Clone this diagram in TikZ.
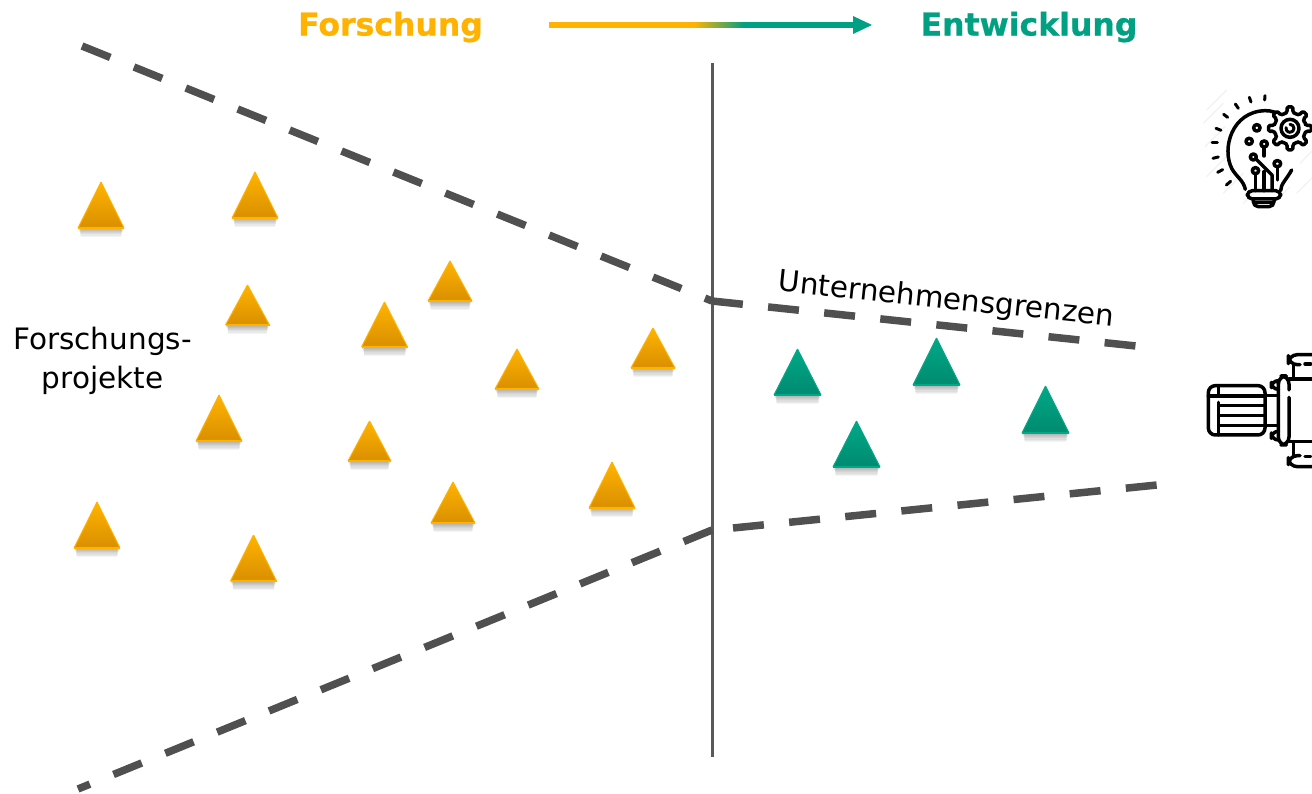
\documentclass[tikz,border=0pt]{standalone}
\usepackage{fontspec}
\setmainfont{DejaVu Sans}
\newfontfamily\headfont{DejaVu Sans}[BoldFeatures={FakeBold=0.7}]
\definecolor{orgc}{HTML}{FFB300}
\definecolor{orgd}{HTML}{D98F00}
\definecolor{grnc}{HTML}{00A082}
\definecolor{grnd}{HTML}{008A70}
\definecolor{grnt}{HTML}{00A987}
\definecolor{dashc}{HTML}{505050}
\tikzset{
  bound/.style={draw=dashc,line width=7.5pt,dash pattern=on 30.5pt off 25.5pt},
  boundr/.style={draw=dashc,line width=7.5pt,dash pattern=on 31pt off 25.4pt},
  icon/.style={draw=black,line width=3.5pt,line cap=round,line join=round,fill=none},
  iconthin/.style={draw=black,line width=3pt,line cap=round,line join=round,fill=none},
  lab/.style={inner sep=0pt,font=\fontsize{29.5}{29.5}\selectfont},
  head/.style={inner sep=0pt,font=\headfont\fontsize{31.5}{31.5}\selectfont\bfseries},
}
% #1 apex x, #2 apex y, #3 half width, #4 base y, #5 top colour, #6 bottom colour, #7 edge
\newcommand{\tria}[7]{%
  \foreach \k in {1,...,7}{%
    \fill[black,opacity=.045] ({#1-#3+\k*0.4},{#4-2}) rectangle ({#1+#3-\k*0.4},{#4+1+\k*1.1});}%
  \shade[top color=#5,bottom color=#6] (#1,#2) -- ({#1+#3},#4) -- ({#1-#3},#4) -- cycle;
  \draw[#7,line width=1pt,line join=round] (#1,#2) -- ({#1+#3},#4);
  \draw[#7,line width=1pt,line join=round] (#1,#2) -- ({#1-#3},#4);
  \draw[#7,line width=2.2pt] ({#1-#3},#4) -- ({#1+#3},#4);
}
\begin{document}
\begin{tikzpicture}[x=1pt,y=-1pt]
\useasboundingbox (0,0) rectangle (1312,794);
\clip (0,0) rectangle (1312,794);
\fill[white] (0,0) rectangle (1312,794);

% heading
\node[head,text=orgc] (forschung) at (390.5,27) {Forschung};
\node[head,text=grnc] (entwicklung) at (1029,27) {Entwicklung};
\fill[orgc] (549,22.5) rectangle (694,28.5);
\foreach \i in {0,...,49}{
  \pgfmathsetmacro{\p}{100-2*\i}
  \fill[orgc!\p!grnc] ({693.5+\i},22.5) rectangle ({694.8+\i},28.5);
}
\fill[grnc] (743,22.5) rectangle (856,28.5);
\fill[grnc] (853,16) -- (872,25) -- (853,34) -- cycle;

% axis and boundaries
\coordinate (vt) at (712,63);
\coordinate (vb) at (712,757);
\draw[draw=dashc!95,line width=3pt] (vt) -- (vb);
\coordinate (u1) at (82,46);
\coordinate (u2) at (712,301);
\coordinate (u3) at (1136,346);
\coordinate (l1) at (78,789);
\coordinate (l2) at (712,530);
\coordinate (l2b) at (733,528);
\coordinate (l3) at (1157,485);
\draw[bound] (u1) -- (u2);
\draw[boundr] (u2) -- (u3);
\draw[bound] (l2) -- (l1);
\draw[boundr] (l2b) -- (l3);

% labels
\node[lab] (fp1) at (102.5,341) {Forschungs-};
\node[lab] (fp2) at (102.5,380) {projekte};
\node[lab,rotate=-6] (ug) at (946.5,300.5) {Unternehmensgrenzen};

% orange triangles
\tria{101}{182}{23}{228}{orgc}{orgd}{orgc}
\tria{255}{172}{23}{218}{orgc}{orgd}{orgc}
\tria{247.5}{285}{22}{325}{orgc}{orgd}{orgc}
\tria{450}{261}{22}{301}{orgc}{orgd}{orgc}
\tria{384.5}{302}{23}{347}{orgc}{orgd}{orgc}
\tria{517}{349}{22}{389}{orgc}{orgd}{orgc}
\tria{653}{328}{22}{368}{orgc}{orgd}{orgc}
\tria{219}{395}{23}{441}{orgc}{orgd}{orgc}
\tria{369.5}{421}{21.5}{461}{orgc}{orgd}{orgc}
\tria{453}{482}{22}{523}{orgc}{orgd}{orgc}
\tria{612}{462}{23}{508}{orgc}{orgd}{orgc}
\tria{97}{502}{23}{548}{orgc}{orgd}{orgc}
\tria{253.5}{535}{23}{581}{orgc}{orgd}{orgc}
% green triangles
\tria{797.5}{349}{23.5}{395}{grnt}{grnd}{grnt}
\tria{936.5}{338}{23.5}{385}{grnt}{grnd}{grnt}
\tria{856.5}{421}{23.5}{467}{grnt}{grnd}{grnt}
\tria{1045.5}{386}{23.5}{433}{grnt}{grnd}{grnt}

% light bulb icon
\begin{scope}[shift={(1190,80)},x=0.3333pt,y=-0.3333pt]
  \foreach \a/\b in {50/90,40/130,45/200,50/290,100/340,160/370,240/380,320/340,330/250}{
    \draw[black!5,line width=1.2pt] (\a,\b) -- ++(60,-60);}
  \draw[iconthin] (225,47) -- (224,60);
  \draw[iconthin] (178,52) -- (183,66);
  \draw[iconthin] (136,72) -- (145,85);
  \draw[iconthin] (101,103) -- (113,112);
  \draw[iconthin] (78,145) -- (93,151);
  \draw[iconthin] (66,187) -- (82,187);
  \draw[iconthin] (69,235) -- (85,231);
  \draw[iconthin] (83,277) -- (98,269);
  \draw[iconthin] (109,315) -- (122,304);
  % bulb outline
  \draw[icon] (166,328) .. controls (160,300) and (138,290) .. (125,265)
     .. controls (95,205) and (125,95) .. (225,92) .. controls (235,92) and (245,93) .. (255,97);
  \draw[icon] (272,332) .. controls (272,312) and (290,298) .. (305,270);
  % base
  \draw[icon,rounded corners=5pt] (172,332) rectangle (272,357);
  \draw[icon,rounded corners=5pt] (190,357) -- (190,380) -- (252,380) -- (252,357);
  \draw[iconthin] (195,368) -- (248,368);
  % chips and pins
  \draw[icon,rounded corners=3pt] (191,134) rectangle (210,153);
  \draw[icon,rounded corners=3pt] (168,175) rectangle (187,193);
  \draw[icon,rounded corners=3pt] (213,183) rectangle (232,201);
  \draw[icon] (222,201) -- (222,228);
  \draw[icon] (190,231) circle[radius=9];
  \draw[icon] (198,237) -- (246,285) -- (246,332);
  \draw[icon,rounded corners=3pt] (252,242) rectangle (272,260);
  \draw[icon] (262,260) -- (262,300);
  \draw[icon,rounded corners=3pt] (187,263) rectangle (206,281);
  \draw[icon] (197,281) -- (197,332);
  \draw[icon] (222,275) -- (222,332);
  % gear
  \begin{scope}[shift={(300,145)}]
    \fill[white] (0,0) circle[radius=62];
    \draw[icon,rounded corners=1.5pt] (-17.5:47)
      \foreach \t in {0,45,...,315}{
        -- ({\t-10}:49) -- ({\t-8}:65) -- ({\t+8}:65) -- ({\t+10}:49) -- ({\t+22.5-5}:47) -- ({\t+22.5+5}:47)
      } -- cycle;
    \draw[icon] (0,0) circle[radius=27];
    \draw[iconthin] (0,-12) arc[start angle=-90,end angle=190,radius=12];
  \end{scope}
\end{scope}

% pump icon
\begin{scope}[shift={(1190,340)},x=0.3333pt,y=-0.3333pt]
  \draw[icon,rounded corners=7pt] (55,137) rectangle (225,285);
  \draw[icon] (86,137) -- (86,168);
  \draw[icon] (86,187) -- (86,285);
  \draw[icon] (55,168) -- (225,168);
  \draw[icon] (86,197) -- (225,197);
  \draw[icon] (86,226) -- (225,226);
  \draw[icon] (86,256) -- (225,256);
  \draw[icon] (225,166) -- (265,166);
  \draw[icon] (225,256) -- (265,256);
  \draw[icon,rounded corners=8pt] (265,125) -- (265,108) -- (297,108) -- (297,150);
  \draw[icon,rounded corners=8pt] (297,172) -- (297,315) -- (265,315) -- (265,125);
  \draw[icon,rounded corners=7pt] (265,122) -- (244,122) -- (244,148) -- (265,148);
  \draw[icon,rounded corners=7pt] (265,274) -- (244,274) -- (244,300) -- (265,300);
  \draw[icon] (297,117) -- (380,117);
  \draw[icon] (297,305) -- (380,305);
  \draw[icon] (310,75) -- (310,117);
  \draw[icon] (310,305) -- (310,347);
  \draw[icon,rounded corners=9pt] (380,44) -- (295,44) -- (295,74) -- (330,74);
  \draw[icon] (345,72) -- (362,72);
  \draw[icon,rounded corners=9pt] (330,347) -- (295,347) -- (295,380) -- (380,380);
  \draw[icon] (345,349) -- (362,349);
\end{scope}
\end{tikzpicture}
\end{document}
